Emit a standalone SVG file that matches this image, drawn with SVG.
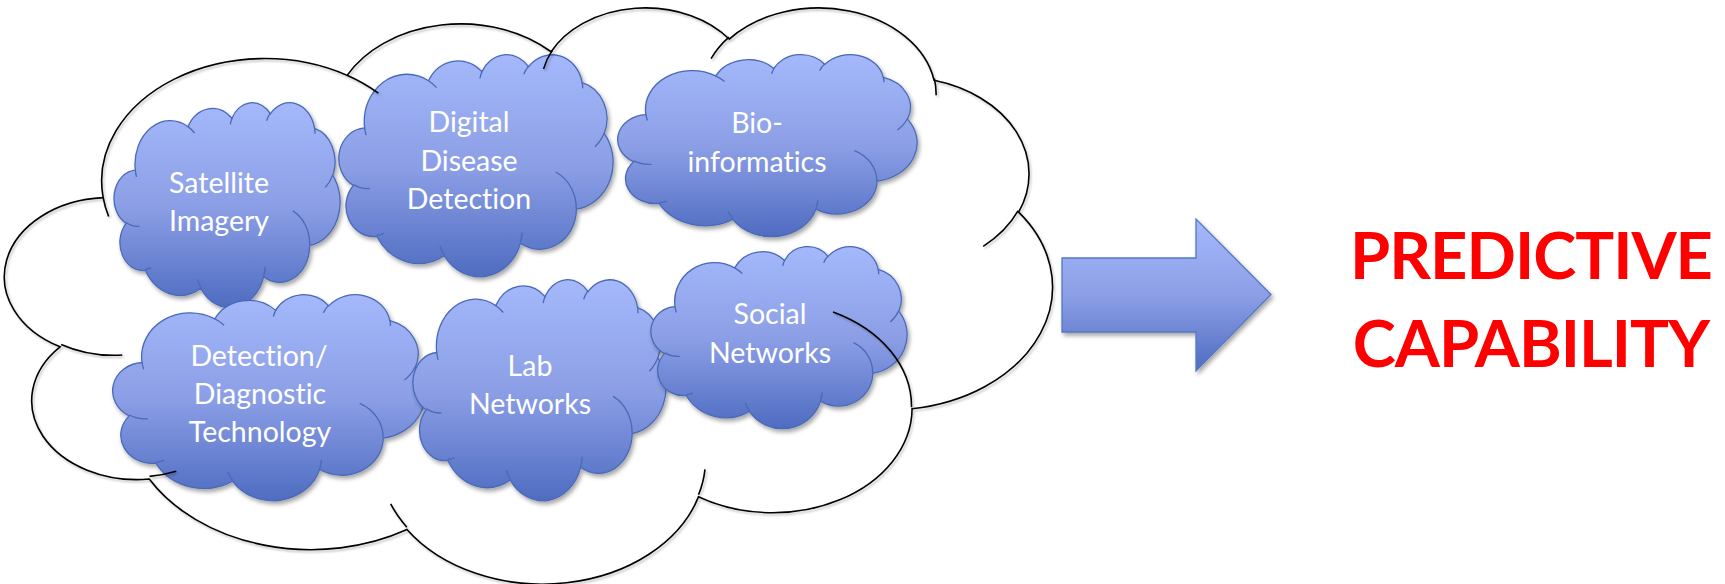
<svg xmlns="http://www.w3.org/2000/svg" xmlns:xlink="http://www.w3.org/1999/xlink" width="1725" height="584" viewBox="0 0 1725 584">
<defs>
  <linearGradient id="blueGrad" x1="0" y1="0" x2="0" y2="1">
    <stop offset="0" stop-color="#A4B8FB"/>
    <stop offset="0.5" stop-color="#8C9FE6"/>
    <stop offset="1" stop-color="#4F6CC1"/>
  </linearGradient>
  <filter id="sh" x="-10%" y="-10%" width="125%" height="130%">
    <feDropShadow dx="2" dy="3" stdDeviation="2.2" flood-color="#000" flood-opacity="0.35"/>
  </filter>
  <filter id="lineSh" x="-5%" y="-5%" width="110%" height="112%">
    <feDropShadow dx="1.5" dy="2" stdDeviation="1.2" flood-color="#000" flood-opacity="0.25"/>
  </filter>
  <path id="cloud" vector-effect="non-scaling-stroke" d="M3900,14370 A6753,9190 0 0 1 14005,5202 A5333,7267 0 0 1 22455,3432 A4365,5945 0 0 1 29832,2479 A4857,6595 0 0 1 38317,5573 A5333,7273 0 0 1 41818,15456 A6775,9220 0 0 1 37405,30203 A5785,7867 0 0 1 28557,36813 A6752,9215 0 0 1 16482,39267 A7720,10543 0 0 1 5808,35476 A4360,5918 0 0 1 2115,25557 A4345,5945 0 0 1 3900,14370 Z"/>
  <path id="cloudInner" vector-effect="non-scaling-stroke" fill="none" d="M4693,26177 A4345,5945 0 0 1 2160,25380 M6928,34899 A4360,5918 0 0 1 5820,35280 M16478,39090 A6752,9215 0 0 1 15809,37346 M28827,34751 A6752,9215 0 0 1 28560,36660 M34129,22954 A5785,7867 0 0 1 37381,30090 M41798,15354 A5333,7273 0 0 1 40350,18030 M38324,5426 A4857,6595 0 0 1 38400,6690 M29078,3952 A4857,6595 0 0 1 29819,2340 M22141,4720 A4365,5945 0 0 1 22500,3330 M14000,5192 A6753,9190 0 0 1 15299,6539 M4127,15789 A6753,9190 0 0 1 3900,14370"/>
</defs>
<style>
  .shade { filter: url(#sh); }
  .lineShade { filter: url(#lineSh); }
  .blob { fill: url(#blueGrad); stroke: #4A69B8; stroke-width: 1.3; }
  .blobLine { fill: none; stroke: #4A69B8; stroke-width: 1.3; }
  .outline { fill: none; stroke: #000; stroke-width: 1.6; }
  .lbl { font-family: Lato, "Open Sans", "Liberation Sans", sans-serif; font-size: 28.5px; fill: #FFFFFF; text-anchor: middle; font-variant-ligatures: none; }
  .big { font-family: Lato, "Liberation Sans", Arial, sans-serif; font-weight: bold; font-size: 65px; letter-spacing: -1px; fill: #FF0000; text-anchor: middle; font-variant-ligatures: none; }
  .arrow { fill: url(#blueGrad); stroke: #5677C4; stroke-width: 1.3; }
</style>
<rect width="1725" height="584" fill="#FFFFFF"/>

<g id="satellite-imagery">
  <g class="shade"><use xlink:href="#cloud" class="blob" transform="translate(115,102) scale(0.0052083,0.0047454)"/></g>
  <use xlink:href="#cloudInner" class="blobLine" transform="translate(115,102) scale(0.0052083,0.0047454)"/>
  <text class="lbl" x="219" y="193">Satellite</text>
  <text class="lbl" x="219" y="231">Imagery</text>
</g>

<g id="digital-disease-detection">
  <g class="shade"><use xlink:href="#cloud" class="blob" transform="translate(340,54) scale(0.0063194,0.0051389)"/></g>
  <use xlink:href="#cloudInner" class="blobLine" transform="translate(340,54) scale(0.0063194,0.0051389)"/>
  <text class="lbl" x="469" y="132">Digital</text>
  <text class="lbl" x="469" y="171">Disease</text>
  <text class="lbl" x="469" y="209">Detection</text>
</g>

<g id="bio-informatics">
  <g class="shade"><use xlink:href="#cloud" class="blob" transform="translate(619,54) scale(0.0068981,0.0042130)"/></g>
  <use xlink:href="#cloudInner" class="blobLine" transform="translate(619,54) scale(0.0068981,0.0042130)"/>
  <text class="lbl" x="757" y="133">Bio-</text>
  <text class="lbl" x="757" y="172">informatics</text>
</g>

<g id="detection-diagnostic-technology">
  <g class="shade"><use xlink:href="#cloud" class="blob" transform="translate(114,294) scale(0.0071991,0.0047685)"/></g>
  <use xlink:href="#cloudInner" class="blobLine" transform="translate(114,294) scale(0.0071991,0.0047685)"/>
  <text class="lbl" x="259" y="366">Detection/</text>
  <text class="lbl" x="260" y="404">Diagnostic</text>
  <text class="lbl" x="260" y="442">Technology</text>
</g>

<g id="lab-networks">
  <g class="shade"><use xlink:href="#cloud" class="blob" transform="translate(414,279) scale(0.0058333,0.0051157)"/></g>
  <use xlink:href="#cloudInner" class="blobLine" transform="translate(414,279) scale(0.0058333,0.0051157)"/>
  <text class="lbl" x="530" y="376">Lab</text>
  <text class="lbl" x="530" y="414">Networks</text>
</g>

<g id="social-networks">
  <g class="shade"><use xlink:href="#cloud" class="blob" transform="translate(652,246) scale(0.0059028,0.0042130)"/></g>
  <use xlink:href="#cloudInner" class="blobLine" transform="translate(652,246) scale(0.0059028,0.0042130)"/>
  <text class="lbl" x="770" y="324">Social</text>
  <text class="lbl" x="770" y="363">Networks</text>
</g>

<g id="outer-cloud" class="lineShade">
  <use xlink:href="#cloud" class="outline" transform="translate(9,6) scale(0.0241435,0.0133333)"/>
  <use xlink:href="#cloudInner" class="outline" transform="translate(9,6) scale(0.0241435,0.0133333)"/>
</g>

<g id="connectors">
  <g class="shade">
    <path class="arrow" d="M1062,258 L1196,258 L1196,219 L1271,294.5 L1196,371 L1196,332 L1062,332 Z"/>
  </g>
</g>

<g id="predictive-capability">
  <text class="big" x="1531" y="279">PREDICTIVE</text>
  <text class="big" x="1531" y="367">CAPABILITY</text>
</g>
</svg>
